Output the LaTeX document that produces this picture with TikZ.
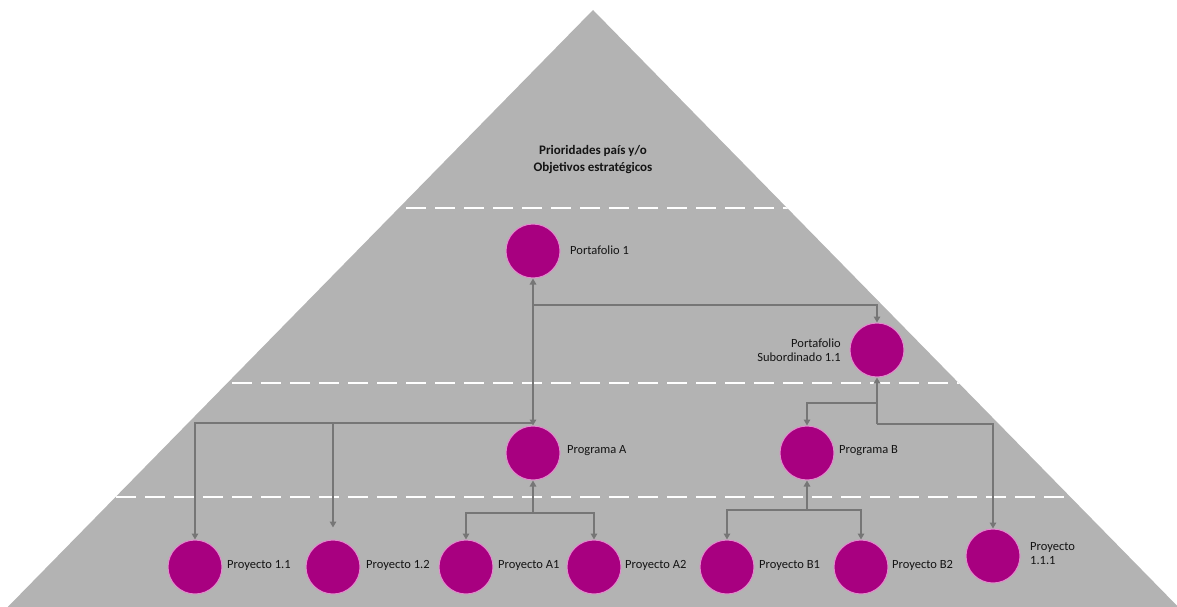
\documentclass[tikz,border=0pt]{standalone}
\usepackage{fontspec}
\setmainfont{Carlito}
\usetikzlibrary{arrows.meta}
\definecolor{tri}{RGB}{179,179,179}
\definecolor{conn}{RGB}{118,118,118}
\definecolor{mag}{RGB}{168,0,128}
\definecolor{rim}{RGB}{225,140,205}
\definecolor{txt}{RGB}{20,20,20}
\tikzset{
  bubble/.style={circle,fill=mag,draw=rim,line width=1pt,minimum size=54pt,inner sep=0pt},
  lbl/.style={font=\fontsize{12.5}{14}\selectfont,text=txt,inner sep=0pt,align=left},
  link/.style={draw=conn,line width=2.6pt,-{Triangle[length=6pt,width=6.5pt]}},
  sep/.style={draw=white,line width=2.6pt,dash pattern=on 20pt off 9pt}
}
\begin{document}
\begin{tikzpicture}[x=1pt,y=-1pt]
\useasboundingbox (0,0) rectangle (1177,607);
\clip (0,0) rectangle (1177,607);
\fill[tri] (593,10) -- (-5,620) -- (1191,620) -- cycle;
\begin{scope}
\clip (593,10) -- (-5,620) -- (1191,620) -- cycle;
\draw[sep] (0,208) -- (1177,208);
\draw[sep] (0,383) -- (1177,383);
\draw[sep] (0,497) -- (1177,497);
\end{scope}
\node[font=\bfseries\fontsize{13}{17}\selectfont,text=txt,align=center] (title) at (593,160) {Prioridades país y/o\\Objetivos estratégicos};

% nodes
\node[bubble] (pf1) at (533,251) {};
\node[bubble] (ps) at (877,350) {};
\node[bubble] (pa) at (533,453) {};
\node[bubble] (pb) at (807,453) {};
\node[bubble] (p11) at (195,567) {};
\node[bubble] (p12) at (333,567) {};
\node[bubble] (pa1) at (466,567) {};
\node[bubble] (pa2) at (594,567) {};
\node[bubble] (pb1) at (727,567) {};
\node[bubble] (pb2) at (861,567) {};
\node[bubble] (p111) at (993,556) {};

% labels
\node[lbl,anchor=west] (lpf1) at (570,250) {Portafolio 1};
\node[lbl,anchor=east,align=right] (lps) at (841,350) {Portafolio\\Subordinado 1.1};
\node[lbl,anchor=west] (lpa) at (567,451) {Programa A};
\node[lbl,anchor=west] (lpb) at (839,451) {Programa B};
\node[lbl,anchor=west] (lp11) at (227,565) {Proyecto 1.1};
\node[lbl,anchor=west] (lp12) at (366,565) {Proyecto 1.2};
\node[lbl,anchor=west] (lpa1) at (498,565) {Proyecto A1};
\node[lbl,anchor=west] (lpa2) at (625,565) {Proyecto A2};
\node[lbl,anchor=west] (lpb1) at (759,565) {Proyecto B1};
\node[lbl,anchor=west] (lpb2) at (892,565) {Proyecto B2};
\node[lbl,anchor=west] (lp111) at (1030,554) {Proyecto\\1.1.1};

% junctions
\coordinate (j1) at (533,305);
\coordinate (j2) at (533,423);
\coordinate (j3) at (533,513);
\coordinate (j4) at (877,403);
\coordinate (j5) at (877,424);
\coordinate (j6) at (807,510);

% connectors
\draw[link,{Triangle[length=6pt,width=6.5pt]}-{Triangle[length=6pt,width=6.5pt]}] (pf1.south) -- (pa.north);
\draw[link] (j1) -| (ps.north);
\draw[link] (j2) -| (p11.north);
\draw[link,shorten >=12pt] (j2) -| (p12.north);
\draw[link] (j3) -- (pa.south);
\draw[link] (j3) -| (pa1.north);
\draw[link] (j3) -| (pa2.north);
\draw[link] (j5) -- (ps.south);
\draw[link] (j4) -| (pb.north);
\draw[link] (j5) -| (p111.north);
\draw[link] (j6) -- (pb.south);
\draw[link] (j6) -| (pb1.north);
\draw[link] (j6) -| (pb2.north);
\end{tikzpicture}
\end{document}
